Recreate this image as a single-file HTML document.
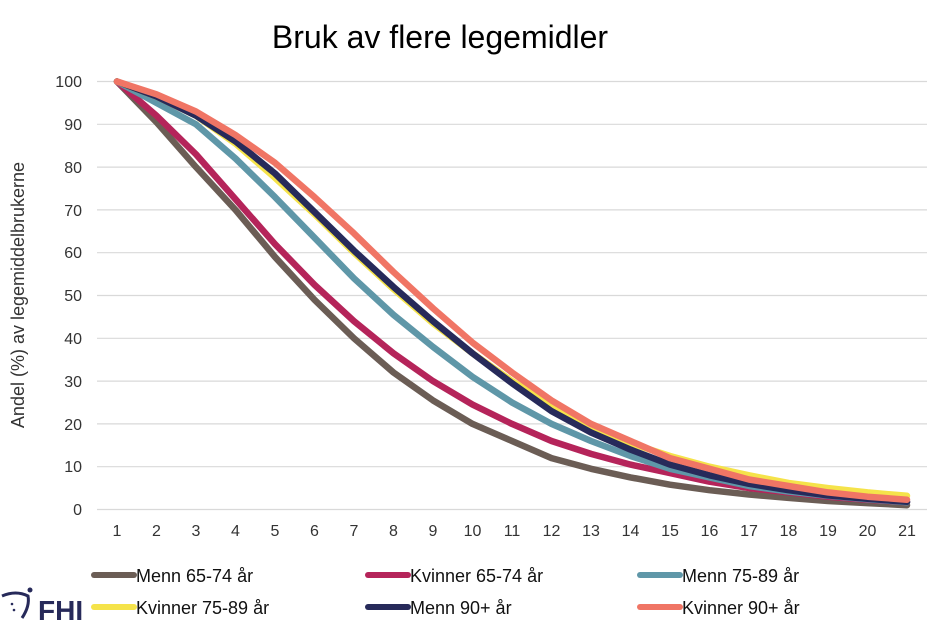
<!DOCTYPE html>
<html><head><meta charset="utf-8"><style>
html,body{margin:0;padding:0;background:#fff;}
svg{display:block;font-family:"Liberation Sans",Arial,sans-serif;}
</style></head><body>
<svg width="941" height="626" viewBox="0 0 941 626" xmlns="http://www.w3.org/2000/svg">
<rect width="941" height="626" fill="#fff"/>
<text x="440" y="48" font-size="32" text-anchor="middle" fill="#000">Bruk av flere legemidler</text>
<g stroke="#d9d9d9" stroke-width="1.2">
<line x1="97" x2="927" y1="81.5" y2="81.5"/><line x1="97" x2="927" y1="124.3" y2="124.3"/>
<line x1="97" x2="927" y1="167.1" y2="167.1"/><line x1="97" x2="927" y1="209.9" y2="209.9"/>
<line x1="97" x2="927" y1="252.7" y2="252.7"/><line x1="97" x2="927" y1="295.5" y2="295.5"/>
<line x1="97" x2="927" y1="338.3" y2="338.3"/><line x1="97" x2="927" y1="381.1" y2="381.1"/>
<line x1="97" x2="927" y1="423.9" y2="423.9"/><line x1="97" x2="927" y1="466.7" y2="466.7"/>
<line x1="97" x2="927" y1="509.5" y2="509.5"/>
</g>
<g font-size="16" fill="#333" text-anchor="end">
<text x="82" y="87">100</text><text x="82" y="130">90</text><text x="82" y="173">80</text>
<text x="82" y="216">70</text><text x="82" y="258">60</text><text x="82" y="301">50</text>
<text x="82" y="344">40</text><text x="82" y="387">30</text><text x="82" y="430">20</text>
<text x="82" y="472">10</text><text x="82" y="515">0</text>
</g>
<g font-size="16" fill="#333" text-anchor="middle">
<text x="117" y="536">1</text><text x="156.5" y="536">2</text><text x="196" y="536">3</text><text x="235.5" y="536">4</text>
<text x="275" y="536">5</text><text x="314.5" y="536">6</text><text x="354" y="536">7</text><text x="393.5" y="536">8</text>
<text x="433" y="536">9</text><text x="472.5" y="536">10</text><text x="512" y="536">11</text><text x="551.5" y="536">12</text>
<text x="591" y="536">13</text><text x="630.5" y="536">14</text><text x="670" y="536">15</text><text x="709.5" y="536">16</text>
<text x="749" y="536">17</text><text x="788.5" y="536">18</text><text x="828" y="536">19</text><text x="867.5" y="536">20</text>
<text x="907" y="536">21</text>
</g>
<text transform="translate(24,295) rotate(-90)" font-size="18" text-anchor="middle" fill="#333">Andel (%) av legemiddelbrukerne</text>
<g fill="none" stroke-width="6.5" stroke-linecap="round" stroke-linejoin="round">
<polyline stroke="#6b5d55" points="117,81.5 156.5,122.2 196,167.1 235.5,209.9 275,257 314.5,299.8 354,338.3 393.5,372.5 433,400.4 472.5,423.9 512,441 551.5,458.1 591,468.8 630.5,477.4 670,484.7 709.5,490.2 749,494.5 788.5,497.9 828,501 867.5,503.1 907,505.2"/>
<polyline stroke="#b5245a" points="117,81.5 156.5,115.7 196,154.3 235.5,199.2 275,244.1 314.5,284.8 354,321.2 393.5,353.3 433,381.1 472.5,404.6 512,423.9 551.5,441 591,453.9 630.5,464.6 670,473.1 709.5,481.7 749,488.1 788.5,492.4 828,496.7 867.5,499.7 907,502.2"/>
<polyline stroke="#5f97a8" points="117,81.5 156.5,102.9 196,124.3 235.5,158.5 275,197.1 314.5,237.7 354,278.4 393.5,314.8 433,346.9 472.5,376.8 512,402.5 551.5,423.9 591,441 630.5,456 670,468.8 709.5,477.4 749,486 788.5,491.5 828,495.8 867.5,499.2 907,502.2"/>
<polyline stroke="#f5e34a" points="117,81.5 156.5,96.5 196,115.7 235.5,143.6 275,177.8 314.5,214.2 354,252.7 393.5,289.1 433,323.3 472.5,353.3 512,381.1 551.5,404.6 591,426 630.5,443.2 670,456 709.5,466.7 749,475.3 788.5,483 828,488.1 867.5,492.4 907,495.8"/>
<polyline stroke="#272a5a" points="117,81.5 156.5,96.5 196,115.7 235.5,141.4 275,173.5 314.5,212 354,250.6 393.5,286.9 433,321.2 472.5,353.3 512,383.2 551.5,411.1 591,432.5 630.5,449.6 670,464.6 709.5,475.3 749,483.8 788.5,490.2 828,495.4 867.5,498.8 907,501.8"/>
<polyline stroke="#f07565" points="117,81.5 156.5,94.3 196,111.5 235.5,135 275,162.8 314.5,197.1 354,233.4 393.5,272 433,308.3 472.5,342.6 512,372.5 551.5,400.4 591,423.9 630.5,441 670,458.1 709.5,468.8 749,479.5 788.5,486 828,492.4 867.5,496.7 907,499.7"/>
</g>
<g font-size="18" fill="#111">
<line x1="94" x2="134" y1="575" y2="575" stroke="#6b5d55" stroke-width="6" stroke-linecap="round"/><text x="136" y="582">Menn 65-74 år</text>
<line x1="368" x2="408" y1="575" y2="575" stroke="#b5245a" stroke-width="6" stroke-linecap="round"/><text x="410" y="582">Kvinner 65-74 år</text>
<line x1="640" x2="680" y1="575" y2="575" stroke="#5f97a8" stroke-width="6" stroke-linecap="round"/><text x="682" y="582">Menn 75-89 år</text>
<line x1="94" x2="134" y1="607" y2="607" stroke="#f5e34a" stroke-width="6" stroke-linecap="round"/><text x="136" y="614">Kvinner 75-89 år</text>
<line x1="368" x2="408" y1="607" y2="607" stroke="#272a5a" stroke-width="6" stroke-linecap="round"/><text x="410" y="614">Menn 90+ år</text>
<line x1="640" x2="680" y1="607" y2="607" stroke="#f07565" stroke-width="6" stroke-linecap="round"/><text x="682" y="614">Kvinner 90+ år</text>
</g>
<g fill="#272a5a">
<text x="38" y="620" font-size="28" font-weight="bold">FHI</text>
<path d="M2 596 Q16 590 28 596 Q30 606 22 618" stroke="#272a5a" stroke-width="3" fill="none"/>
<circle cx="30" cy="590" r="2.5"/><circle cx="12" cy="604" r="1.3"/><circle cx="14" cy="610" r="1.3"/>
</g>
</svg>
</body></html>
